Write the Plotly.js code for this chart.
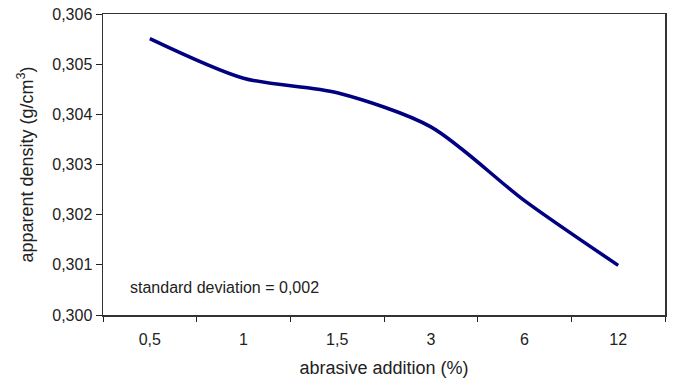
<!DOCTYPE html>
<html>
<head>
<meta charset="utf-8">
<script src="https://cdn.plot.ly/plotly-3.0.1.min.js"></script>
<style>html,body{margin:0;padding:0;background:#fff;}#chart{width:673px;height:384px;}</style>
</head>
<body>
<div id="chart"></div>
<script>
// Data
const categories = ["0,5", "1", "1,5", "3", "6", "12"];
const density = [0.30551, 0.30472, 0.30443, 0.30375, 0.30228, 0.30099];
const yTicks = [0.300, 0.301, 0.302, 0.303, 0.304, 0.305, 0.306];
const note = "standard deviation = 0,002";

const font = "Liberation Sans, Arial, Helvetica, sans-serif";

const trace = {
  x: categories,
  y: density,
  type: "scatter",
  mode: "lines",
  line: {color: "#000080", width: 3.5, shape: "spline", smoothing: 0.8},
  hoverinfo: "skip"
};

const layout = {
  width: 673,
  height: 384,
  margin: {l: 103, r: 8, t: 14, b: 69},
  paper_bgcolor: "#ffffff",
  plot_bgcolor: "#ffffff",
  separators: ", ",
  showlegend: false,
  font: {family: font, size: 16, color: "#222"},
  xaxis: {
    type: "category",
    range: [-0.5, categories.length - 0.5],
    tickson: "boundaries",
    ticks: "outside",
    ticklen: 5,
    tickcolor: "#222",
    ticklabelstandoff: 9,
    showline: true,
    linecolor: "#333",
    linewidth: 1.5,
    mirror: true,
    showgrid: false,
    zeroline: false,
    tickfont: {family: font, size: 16, color: "#222"},
    title: {text: "abrasive addition (%)", font: {family: font, size: 18, color: "#222"}, standoff: 14}
  },
  yaxis: {
    range: [0.300, 0.306],
    tickvals: yTicks,
    tickformat: ".3f",
    ticks: "outside",
    ticklen: 6,
    tickcolor: "#222",
    showline: true,
    linecolor: "#333",
    linewidth: 1.5,
    mirror: true,
    showgrid: false,
    zeroline: false,
    tickfont: {family: font, size: 16, color: "#222"},
    title: {text: "apparent density (g/cm<sup>3</sup>)", font: {family: font, size: 18, color: "#222"}, standoff: 14}
  },
  annotations: [{
    text: note,
    xref: "paper", yref: "paper",
    x: 0.044, y: 0.093,
    xanchor: "left", yanchor: "middle",
    showarrow: false,
    font: {family: font, size: 16, color: "#222"}
  }]
};

Plotly.newPlot("chart", [trace], layout, {staticPlot: true, displayModeBar: false});
</script>
</body>
</html>
